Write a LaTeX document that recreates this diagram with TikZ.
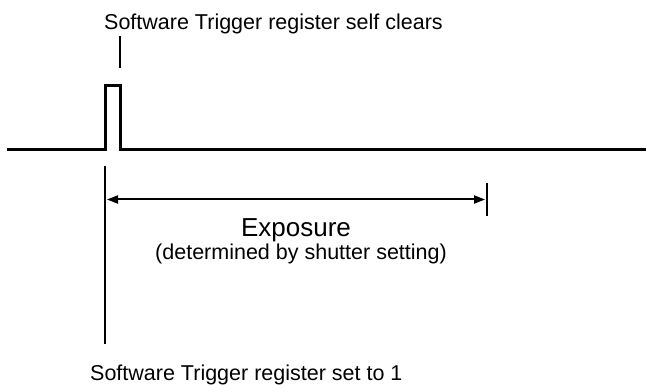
\documentclass[tikz,border=0pt]{standalone}
\usepackage{fontspec}
\setmainfont{Liberation Sans}
\usetikzlibrary{arrows.meta}
\begin{document}
\begin{tikzpicture}[x=1pt,y=-1pt,
  signal/.style={line width=3pt,line join=miter},
  marker/.style={line width=2pt},
  span/.style={line width=2pt,{Triangle[length=11pt,width=8pt]}-{Triangle[length=11pt,width=8pt]}},
  lbl/.style={inner sep=0pt,font=\fontsize{21.5}{25}\selectfont},
  biglbl/.style={inner sep=0pt,font=\fontsize{26}{31}\selectfont}]
\useasboundingbox (0,0) rectangle (646,385);
% waveform points
\coordinate (s0) at (7,150);
\coordinate (r0) at (105,150);
\coordinate (r1) at (105,86);
\coordinate (f1) at (120,86);
\coordinate (f0) at (120,150);
\coordinate (s1) at (646,150);
\draw[signal] (s0) -- (r0) -- (r1) -- (f1) -- (f0) -- (s1);
% markers
\coordinate (ttop) at (120,36);
\coordinate (tbot) at (120,68);
\draw[marker] (ttop) -- (tbot);
\coordinate (vtop) at (105,166);
\coordinate (vbot) at (105,344);
\draw[marker] (vtop) -- (vbot);
\coordinate (etop) at (486.5,183);
\coordinate (ebot) at (486.5,216);
\draw[marker] (etop) -- (ebot);
\coordinate (al) at (107,199.5);
\coordinate (ar) at (485,199.5);
\draw[span] (al) -- (ar);
% labels
\node[lbl,anchor=base west] (clr) at (104,30) {Software Trigger register self clears};
\node[biglbl,anchor=base] (exp) at (296,236.5) {Exposure};
\node[lbl,anchor=base] (det) at (301,260) {(determined by shutter setting)};
\node[lbl,anchor=base west] (set) at (90,380) {Software Trigger register set to 1};
\end{tikzpicture}
\end{document}
